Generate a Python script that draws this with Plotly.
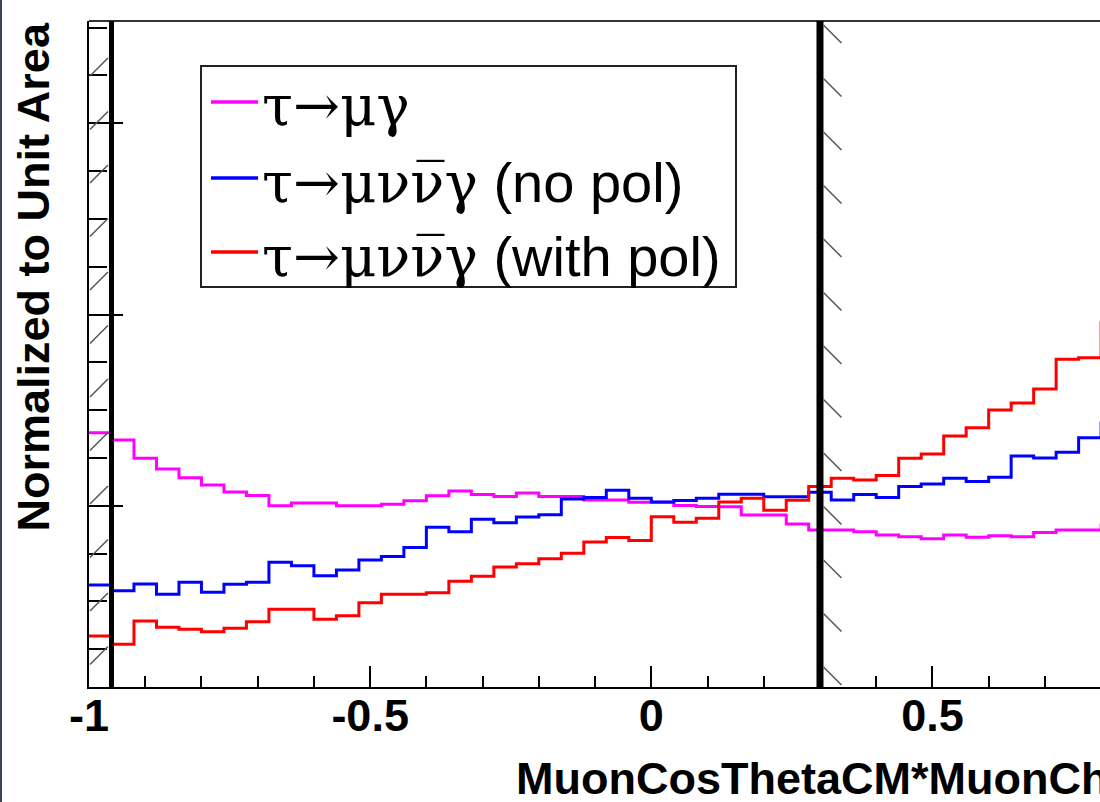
import numpy as np
import plotly.graph_objects as go

# ---------------- data ----------------
bin_start = -1.0
bin_width = 0.04
# bin contents for bins starting at -1.00, -0.96, ..., 0.80
mu_gamma = [0.02382, 0.02344, 0.02248, 0.02192, 0.02146, 0.02108, 0.02072, 0.02054, 0.02000, 0.02014,
            0.02014, 0.02000, 0.02000, 0.02007, 0.02026, 0.02052, 0.02077, 0.02059, 0.02048, 0.02066,
            0.02048, 0.02048, 0.02030, 0.02030, 0.02018, 0.02018, 0.02001, 0.01996, 0.01995, 0.01951,
            0.01951, 0.01904, 0.01873, 0.01873, 0.01864, 0.01847, 0.01838, 0.01827, 0.01847, 0.01835,
            0.01843, 0.01838, 0.01860, 0.01873, 0.01873, 0.01899]
mununu_nopol = [0.01585, 0.01555, 0.01590, 0.01537, 0.01599, 0.01547, 0.01589, 0.01599, 0.01704, 0.01686,
                0.01634, 0.01664, 0.01716, 0.01734, 0.01782, 0.01887, 0.01864, 0.01929, 0.01911, 0.01941,
                0.01953, 0.02035, 0.02043, 0.02081, 0.02039, 0.02019, 0.02027, 0.02039, 0.02060, 0.02060,
                0.02047, 0.02047, 0.02070, 0.02030, 0.02059, 0.02043, 0.02100, 0.02114, 0.02143, 0.02126,
                0.02149, 0.02260, 0.02249, 0.02279, 0.02356, 0.02433]
mununu_pol = [0.01319, 0.01275, 0.01397, 0.01364, 0.01354, 0.01341, 0.01359, 0.01393, 0.01458, 0.01458,
              0.01406, 0.01425, 0.01493, 0.01537, 0.01537, 0.01545, 0.01605, 0.01631, 0.01679, 0.01696,
              0.01722, 0.01751, 0.01810, 0.01834, 0.01818, 0.01942, 0.01914, 0.01934, 0.02019, 0.02039,
              0.01976, 0.02028, 0.02101, 0.02143, 0.02134, 0.02158, 0.02248, 0.02270, 0.02365, 0.02408,
              0.02501, 0.02537, 0.02610, 0.02766, 0.02774, 0.02956]

greek = '<span style="font-family:DejaVu Serif">{}</span>'
series_names = [
    greek.format("τ→μγ"),
    greek.format("τ→μνν\u0305γ") + " (no pol)",
    greek.format("τ→μνν\u0305γ") + " (with pol)",
]
series_colors = ["#ff00ff", "#0000ff", "#ff0000"]

cut_low = -0.96
cut_high = 0.30

xtick_vals = [-1, -0.5, 0, 0.5]
xtick_text = ["-1", "-0.5", "0", "0.5"]
x_title = "MuonCosThetaCM*MuonCharge"
y_title = "Normalized to Unit Area"

# ---------------- figure ----------------
W, H = 1100, 802
ML, MR, MT, MB = 89, 0, 21, 115
PW, PH = W - ML - MR, H - MT - MB
x_range = [-1.0, 0.798]
y_range = [0.010518, 0.04535]
px_per_x = PW / (x_range[1] - x_range[0])


def px2paper_x(px):
    return (px - ML) / PW


def py2paper(py):
    return (H - MB - py) / PH


fig = go.Figure()
for vals, name, col in zip([mu_gamma, mununu_nopol, mununu_pol], series_names, series_colors):
    edges = bin_start + bin_width * np.arange(len(vals) + 1)
    fig.add_trace(go.Scatter(
        x=edges, y=list(vals) + [vals[-1]], mode="lines", line_shape="hv",
        line=dict(color=col, width=3), name=name, hoverinfo="skip", showlegend=False))

bold = dict(family="Liberation Sans, Arial, sans-serif", size=45, color="black", weight="bold")

fig.update_layout(
    width=W, height=H, margin=dict(l=ML, r=MR, t=MT, b=MB),
    paper_bgcolor="white", plot_bgcolor="white",
    showlegend=False,
    xaxis=dict(range=x_range, showgrid=False, zeroline=False, showline=True,
               linecolor="black", linewidth=1.5, ticks="inside", ticklen=21, tickwidth=1.5,
               tickcolor="black", tickmode="array", tickvals=xtick_vals, ticktext=xtick_text,
               tickfont=bold, ticklabelstandoff=-12,
               minor=dict(ticks="inside", ticklen=11, tickwidth=1.5, tickcolor="black",
                          tickmode="linear", tick0=0, dtick=0.1, showgrid=False)),
    yaxis=dict(range=y_range, showgrid=False, zeroline=False, showline=True,
               linecolor="black", linewidth=1.5, ticks="inside", ticklen=34, tickwidth=1.5,
               tickcolor="black", tick0=0, dtick=0.01, showticklabels=False,
               minor=dict(ticks="inside", ticklen=18, tickwidth=1.5, tickcolor="black",
                          tick0=0, dtick=0.0025, showgrid=False)),
)

shapes = []
# top frame line
shapes.append(dict(type="line", xref="paper", yref="paper", x0=0, x1=1, y0=1, y1=1,
                   line=dict(color="#333", width=2)))
# cut lines
shapes.append(dict(type="line", xref="x", yref="paper", x0=cut_low, x1=cut_low, y0=0, y1=1,
                   line=dict(color="black", width=5)))
shapes.append(dict(type="line", xref="x", yref="paper", x0=cut_high, x1=cut_high, y0=0, y1=1,
                   line=dict(color="black", width=7)))
# hatches on excluded side of the upper cut
for k in range(13):
    top = 25 + 53.5 * k
    shapes.append(dict(type="line", xref="x", yref="paper",
                       x0=cut_high + 3.5 / px_per_x, x1=cut_high + 21.5 / px_per_x,
                       y0=py2paper(top), y1=py2paper(top + 18),
                       line=dict(color="#555", width=1.5)))
# hatches on excluded side of the lower cut
for k in range(12):
    b = 76 + 53.5 * k
    shapes.append(dict(type="line", xref="x", yref="paper",
                       x0=-1 + 1 / px_per_x, x1=cut_low - 3.5 / px_per_x,
                       y0=py2paper(b), y1=py2paper(b - 18),
                       line=dict(color="#555", width=1.5)))
# dark strip on left edge of the picture
shapes.append(dict(type="rect", xref="paper", yref="paper", x0=-ML / PW, x1=(2 - ML) / PW,
                   y0=py2paper(H), y1=py2paper(0), fillcolor="#3d4453", line=dict(width=0)))

# legend box (drawn by hand to match the original layout)
leg_left, leg_right, leg_top, leg_bottom = 201, 736, 66, 287
leg_rows = [102, 178, 252]
shapes.append(dict(type="rect", xref="paper", yref="paper",
                   x0=px2paper_x(leg_left), x1=px2paper_x(leg_right),
                   y0=py2paper(leg_bottom), y1=py2paper(leg_top),
                   fillcolor="white", line=dict(color="#222", width=2), layer="above"))
for row, col in zip(leg_rows, series_colors):
    shapes.append(dict(type="line", xref="paper", yref="paper",
                       x0=px2paper_x(211), x1=px2paper_x(258),
                       y0=py2paper(row), y1=py2paper(row),
                       line=dict(color=col, width=3.5), layer="above"))
fig.update_layout(shapes=shapes)

for row, name in zip(leg_rows, series_names):
    fig.add_annotation(text=name, xref="paper", yref="paper",
                       x=px2paper_x(260), y=py2paper(row + 4), xanchor="left", yanchor="middle",
                       showarrow=False,
                       font=dict(family="Liberation Sans, Arial, sans-serif", size=56, color="black"))

fig.add_annotation(text=y_title, textangle=-90, xref="paper", yref="paper",
                   x=px2paper_x(33), y=1.0, xanchor="center", yanchor="top",
                   showarrow=False, font=bold)
fig.add_annotation(text=x_title, xref="paper", yref="paper",
                   x=px2paper_x(514), y=py2paper(778), xanchor="left", yanchor="middle",
                   showarrow=False, font=bold)

fig.write_html("out.html")
